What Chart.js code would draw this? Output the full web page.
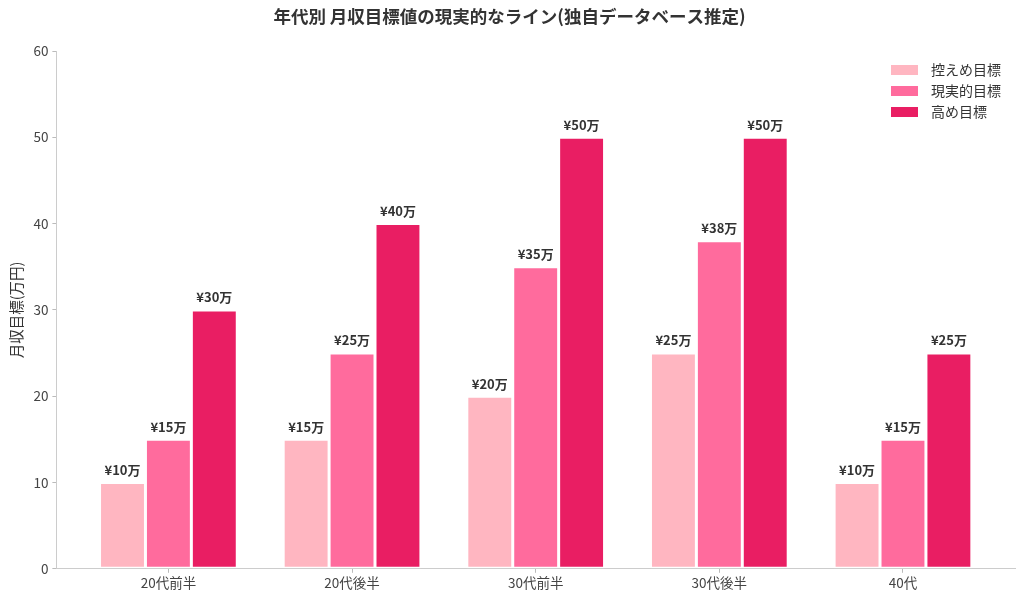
<!DOCTYPE html>
<html>
<head>
<meta charset="utf-8">
<script src="https://cdn.jsdelivr.net/npm/chart.js@4/dist/chart.umd.min.js"></script>
<style>
  html, body { margin: 0; padding: 0; background: #fff; }
  #wrap { width: 1024px; height: 601px; }
</style>
</head>
<body>
<div id="wrap"><canvas id="goal-chart"></canvas></div>
<script>
const categories = ['20代前半', '20代後半', '30代前半', '30代後半', '40代'];
const modestGoal = [10, 15, 20, 25, 10];
const realisticGoal = [15, 25, 35, 38, 15];
const highGoal = [30, 40, 50, 50, 25];
const yTicks = [0, 10, 20, 30, 40, 50, 60];

const FONT = '"Noto Sans CJK JP", "Noto Sans", sans-serif';

// category index -> point for the linear x axis
const toPoints = values => values.map((v, i) => ({ x: i, y: v }));

// Value labels above each bar
const barLabels = {
    id: 'barLabels',
    afterDatasetsDraw(chart) {
        const ctx = chart.ctx;
        ctx.save();
        ctx.font = 'bold 13px ' + FONT;
        ctx.fillStyle = '#333';
        ctx.textAlign = 'center';
        ctx.textBaseline = 'bottom';
        chart.data.datasets.forEach((ds, i) => {
            chart.getDatasetMeta(i).data.forEach((bar, j) => {
                ctx.fillText('¥' + ds.data[j].y + '万', bar.x, bar.y - 6);
            });
        });
        ctx.restore();
    }
};

// Legend drawn inside the plot, top right
const innerLegend = {
    id: 'innerLegend',
    afterDraw(chart) {
        const ctx = chart.ctx;
        const area = chart.chartArea;
        ctx.save();
        ctx.font = '14px ' + FONT;
        ctx.textBaseline = 'middle';
        ctx.textAlign = 'left';
        chart.data.datasets.forEach((ds, i) => {
            const y = area.top + 19 + i * 21;
            const x = area.right - 124;
            ctx.fillStyle = ds.backgroundColor;
            ctx.fillRect(x, y - 5, 27, 10);
            ctx.fillStyle = '#333';
            ctx.fillText(ds.label, x + 40, y);
        });
        ctx.restore();
    }
};

new Chart(document.getElementById('goal-chart').getContext('2d'), {
    type: 'bar',
    data: {
        datasets: [
            { label: '控えめ目標', data: toPoints(modestGoal), backgroundColor: '#FFB6C1' },
            { label: '現実的目標', data: toPoints(realisticGoal), backgroundColor: '#FF6B9D' },
            { label: '高め目標', data: toPoints(highGoal), backgroundColor: '#E91E63' },
        ].map(d => Object.assign(d, {
            borderColor: '#fff',
            borderWidth: 1.5,
            borderSkipped: false,
            categoryPercentage: 0.75,
            barPercentage: 1,
        })),
    },
    options: {
        responsive: true,
        maintainAspectRatio: false,
        animation: false,
        layout: { padding: { left: 4, right: 9, top: 0, bottom: 8 } },
        plugins: {
            legend: { display: false },
            tooltip: { enabled: false },
            title: {
                display: true,
                text: '年代別 月収目標値の現実的なライン(独自データベース推定)',
                color: '#333',
                font: { family: FONT, size: 17.5, weight: 'bold' },
                padding: { top: 6, bottom: 24 },
            },
        },
        scales: {
            x: {
                type: 'linear',
                min: -0.61,
                max: 4.61,
                offset: false,
                afterBuildTicks(axis) { axis.ticks = categories.map((c, i) => ({ value: i })); },
                grid: { display: true, drawOnChartArea: false, offset: false, tickLength: 4, color: '#bbb' },
                border: { color: '#ccc' },
                ticks: {
                    color: '#444',
                    font: { family: FONT, size: 13.5 },
                    padding: 2,
                    callback: v => categories[v],
                },
            },
            y: {
                min: 0,
                max: 60,
                afterBuildTicks(axis) { axis.ticks = yTicks.map(v => ({ value: v })); },
                grid: { display: true, drawOnChartArea: false, tickLength: 4, color: '#bbb' },
                border: { color: '#ccc' },
                ticks: { color: '#444', font: { family: FONT, size: 13.5 }, padding: 4 },
                title: {
                    display: true,
                    text: '月収目標(万円)',
                    color: '#333',
                    font: { family: FONT, size: 14.5 },
                    padding: { bottom: 4 },
                },
            },
        },
    },
    plugins: [barLabels, innerLegend],
});
</script>
</body>
</html>
